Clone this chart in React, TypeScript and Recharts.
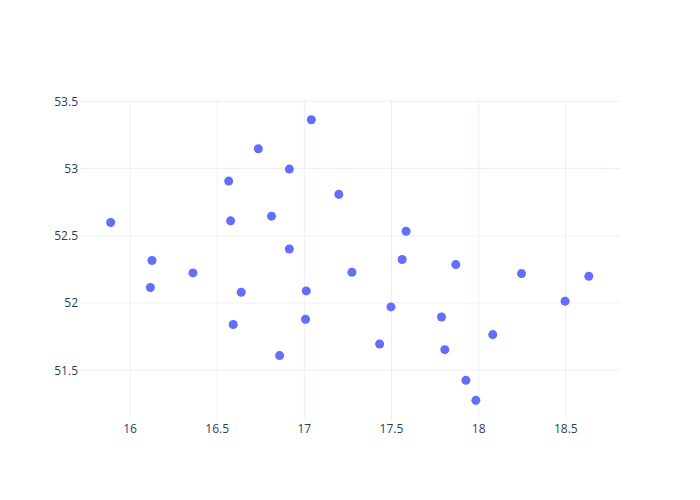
import { ScatterChart, Scatter, XAxis, YAxis, ZAxis, CartesianGrid } from 'recharts';

const xValues = [
  15.889, 16.566, 16.736, 16.914, 17.04, 16.577, 16.812, 16.914, 17.198, 17.584, 17.561,
  16.126, 16.361, 16.117, 16.638, 16.592, 17.011, 17.007, 16.858,
  17.273, 17.497, 17.869, 18.246, 18.632, 18.496, 17.787, 17.432, 18.081, 17.806, 17.927, 17.984,
];
const yValues = [
  52.599, 52.907, 53.147, 52.996, 53.363, 52.611, 52.646, 52.402, 52.808, 52.534, 52.324,
  52.316, 52.224, 52.115, 52.08, 51.84, 52.09, 51.879, 51.609,
  52.229, 51.971, 52.286, 52.219, 52.199, 52.013, 51.896, 51.695, 51.765, 51.653, 51.425, 51.276,
];
const xTicks = [16, 16.5, 17, 17.5, 18, 18.5];
const yTicks = [51.5, 52, 52.5, 53, 53.5];

const data = xValues.map((x, i) => ({ x, y: yValues[i] }));

const tickStyle = { fontSize: 12, fill: '#2a3f5f', fontFamily: '"Open Sans", sans-serif' };

export default function App() {
  return (
    <div style={{ position: 'absolute', left: 0, top: 0, width: 700, height: 500, background: '#fff' }}>
      <ScatterChart width={700} height={500} margin={{ top: 100, right: 80, bottom: 50, left: 0 }}>
        <CartesianGrid stroke="#ebf0f8" strokeWidth={1} horizontalValues={yTicks} verticalValues={xTicks} />
        <XAxis
          type="number"
          dataKey="x"
          domain={[15.713, 18.811]}
          allowDataOverflow
          ticks={xTicks}
          axisLine={false}
          tickLine={false}
          tickSize={0}
          tickMargin={4}
          height={30}
          tick={tickStyle}
        />
        <YAxis
          type="number"
          dataKey="y"
          domain={[51.13, 53.51]}
          allowDataOverflow
          ticks={yTicks}
          axisLine={false}
          tickLine={false}
          tickSize={0}
          tickMargin={2}
          width={80}
          tick={tickStyle}
        />
        <ZAxis range={[34, 34]} />
        <Scatter data={data} fill="#636efa" isAnimationActive={false} />
      </ScatterChart>
    </div>
  );
}
